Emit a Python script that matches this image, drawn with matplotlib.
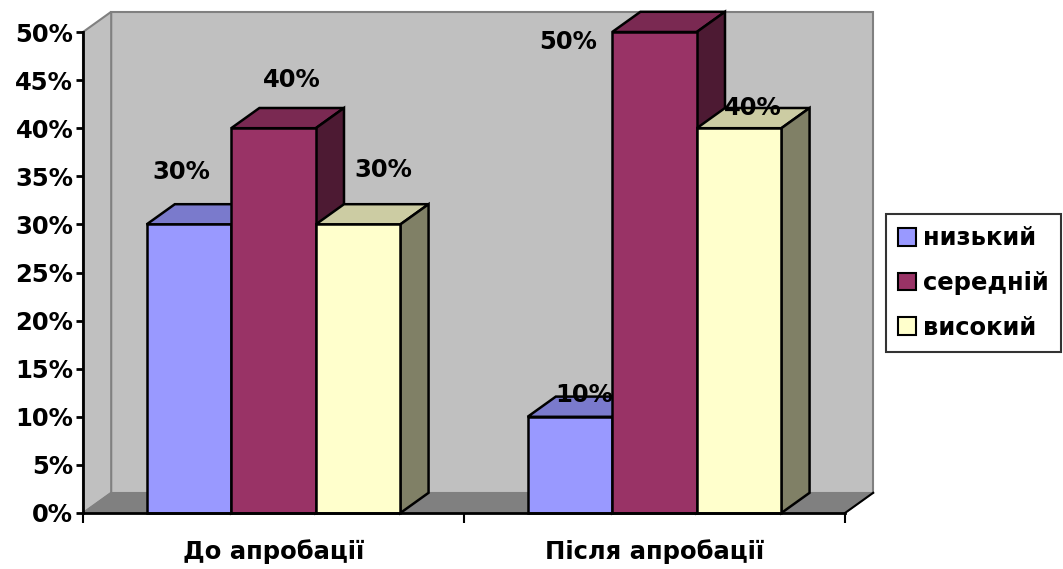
import matplotlib
matplotlib.use('Agg')
import matplotlib.pyplot as plt
from matplotlib.patches import Polygon, Patch

categories = ['До апробації', 'Після апробації']
series = ['низький', 'середній', 'високий']
nyzkyi = [0.30, 0.10]
serednii = [0.40, 0.50]
vysokyi = [0.30, 0.40]
values = [nyzkyi, serednii, vysokyi]
yticks = [0.0, 0.05, 0.10, 0.15, 0.20, 0.25, 0.30, 0.35, 0.40, 0.45, 0.50]

# front / top / side shades for each series
front = ['#9999FF', '#993366', '#FFFFCC']
top = ['#7A7ACC', '#7A2952', '#CCCCA3']
side = ['#4D4D80', '#4D1A33', '#808066']

# label offsets in pixels from the top centre of each bar
label_off = [[(-8, 52), (14, 22)],
             [(18, 48), (-86, -10)],
             [(25, 54), (14, 20)]]

FS = 17.5

plt.rcParams['font.family'] = ['DejaVu Sans']
plt.rcParams['font.weight'] = 'bold'

fig = plt.figure(figsize=(10.63, 5.69), dpi=100)
ax = fig.add_axes([83 / 1063, 56 / 569, 762 / 1063, 481 / 569])
ax.set_xlim(0, 2)
ax.set_ylim(0, 0.5)

DX = 0.074   # depth shift in x (data units)
DY = 0.021   # depth shift in y (data units)
ymax = 0.5

# walls and floor
ax.add_patch(Polygon([(DX, DY), (2 + DX, DY), (2 + DX, ymax + DY), (DX, ymax + DY)],
                     closed=True, fc='#C0C0C0', ec='#808080', lw=1.5, clip_on=False, zorder=0))
ax.add_patch(Polygon([(0, 0), (DX, DY), (DX, ymax + DY), (0, ymax)],
                     closed=True, fc='#C0C0C0', ec='#808080', lw=1.5, clip_on=False, zorder=0))
ax.add_patch(Polygon([(0, 0), (2, 0), (2 + DX, DY), (DX, DY)],
                     closed=True, fc='#808080', ec='#808080', lw=1, clip_on=False, zorder=1))
ax.plot([2, 2 + DX], [0, DY], color='black', lw=1.5, clip_on=False, zorder=2)

w = 0.222
centers = [0.5, 1.5]
z = 3
for g, c in enumerate(centers):
    for s in range(3):
        v = values[s][g]
        x0 = c + (s - 1.5) * w
        x1 = x0 + w
        ax.bar(x0, v, width=w, align='edge', color=front[s], edgecolor='black',
               lw=1.8, zorder=z + 0.2, clip_on=False)
        ax.add_patch(Polygon([(x0, v), (x1, v), (x1 + DX, v + DY), (x0 + DX, v + DY)],
                             closed=True, fc=top[s], ec='black', lw=1.8, zorder=z, clip_on=False))
        ax.add_patch(Polygon([(x1, 0), (x1 + DX, DY), (x1 + DX, v + DY), (x1, v)],
                             closed=True, fc=side[s], ec='black', lw=1.8, zorder=z, clip_on=False))
        z += 1

# data labels
for s in range(3):
    for g, c in enumerate(centers):
        v = values[s][g]
        xc = c + (s - 1) * w
        ax.annotate(f'{v * 100:.0f}%', (xc, v), xytext=label_off[s][g],
                    textcoords='offset pixels', ha='center', va='center',
                    fontsize=FS, fontweight='bold', zorder=50, annotation_clip=False)

for sp in ['top', 'right']:
    ax.spines[sp].set_visible(False)
for sp in ['left', 'bottom']:
    ax.spines[sp].set_linewidth(2)
    ax.spines[sp].set_zorder(40)

ax.set_yticks(yticks)
ax.set_yticklabels([f'{t * 100:.0f}%' for t in yticks], fontsize=FS, fontweight='bold')
ax.tick_params(axis='y', direction='out', length=5, width=2, pad=2)

ax.set_xticks([0, 1, 2])
ax.set_xticklabels([])
ax.set_xticks(centers, minor=True)
ax.set_xticklabels(categories, minor=True, fontsize=FS, fontweight='bold')
ax.tick_params(axis='x', which='major', direction='out', length=7, width=1.5)
ax.tick_params(axis='x', which='minor', length=0, pad=19)
ax.set_facecolor('none')

handles = [Patch(facecolor=front[i], edgecolor='black', lw=1.5) for i in range(3)]
leg = fig.legend(handles, series, loc='center', bbox_to_anchor=(973.5 / 1063, 1 - 283 / 569),
                 prop={'size': FS, 'weight': 'bold'}, frameon=True, fancybox=False,
                 handlelength=0.75, handleheight=0.75, handletextpad=0.3,
                 labelspacing=0.85, borderpad=0.5, borderaxespad=0)
leg.get_frame().set_edgecolor('black')
leg.get_frame().set_linewidth(1.5)

fig.savefig('out.png', dpi=100)
